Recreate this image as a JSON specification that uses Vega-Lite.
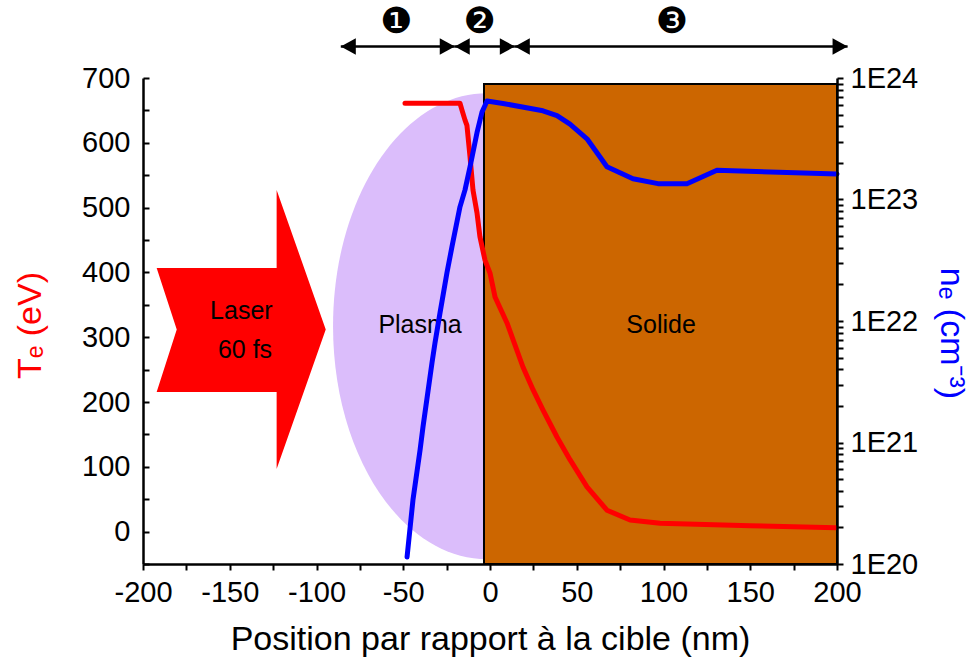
{
  "$schema": "https://vega.github.io/schema/vega-lite/v6.json",
  "width": 694,
  "height": 486,
  "autosize": {"type": "none"},
  "padding": {"left": 143, "top": 78, "right": 140, "bottom": 94},
  "background": "white",
  "config": {"view": {"stroke": null}, "font": "Liberation Sans"},
  "datasets": {
    "te": [
      {"position": -49.0, "Te": 661}, {"position": -17.3, "Te": 661}, {"position": -16.1, "Te": 650},
      {"position": -14.4, "Te": 635}, {"position": -13.3, "Te": 627}, {"position": -11.5, "Te": 578},
      {"position": -9.8, "Te": 527}, {"position": -7.5, "Te": 492}, {"position": -5.8, "Te": 455},
      {"position": -2.9, "Te": 419}, {"position": 0, "Te": 399}, {"position": 2.9, "Te": 362},
      {"position": 9.8, "Te": 322}, {"position": 19.0, "Te": 254}, {"position": 24.8, "Te": 219},
      {"position": 30.5, "Te": 188}, {"position": 38.6, "Te": 146}, {"position": 46.1, "Te": 111},
      {"position": 55.9, "Te": 69}, {"position": 67.4, "Te": 33}, {"position": 80.7, "Te": 18},
      {"position": 98.0, "Te": 13}, {"position": 149.9, "Te": 9}, {"position": 199.4, "Te": 6}
    ],
    "ne": [
      {"position": -47.8, "ne": 1.14e20}, {"position": -44.4, "ne": 3.37e20}, {"position": -40.3, "ne": 8.7e20},
      {"position": -38.6, "ne": 1.35e21}, {"position": -33.4, "ne": 4.57e21}, {"position": -31.7, "ne": 6.6e21},
      {"position": -28.8, "ne": 1.17e22}, {"position": -24.8, "ne": 2.5e22}, {"position": -21.9, "ne": 4.1e22},
      {"position": -17.3, "ne": 8.7e22}, {"position": -14.4, "ne": 1.2e23}, {"position": -11.5, "ne": 1.86e23},
      {"position": -7.5, "ne": 3.55e23}, {"position": -4.6, "ne": 5.25e23}, {"position": -1.7, "ne": 6.46e23},
      {"position": 7.5, "ne": 6.17e23}, {"position": 30.5, "ne": 5.37e23}, {"position": 38.6, "ne": 4.9e23},
      {"position": 46.1, "ne": 4.17e23}, {"position": 55.9, "ne": 3.16e23}, {"position": 67.4, "ne": 1.86e23},
      {"position": 82.4, "ne": 1.48e23}, {"position": 96.8, "ne": 1.35e23}, {"position": 113.5, "ne": 1.35e23},
      {"position": 130.8, "ne": 1.74e23}, {"position": 200, "ne": 1.62e23}
    ],
    "plasma": [{"position": -1.7, "Te": 317}],
    "laser": [{"position": -143.4, "Te": 312}],
    "solid": [{"position": -3.46, "position_end": 200, "Te": -50, "Te_end": 690.7}],
    "labels": [
      {"position": -40.3, "Te": 306.5, "text": "Plasma"},
      {"position": 98.6, "Te": 306.5, "text": "Solide"},
      {"position": -143.3, "Te": 328, "text": "Laser"},
      {"position": -141.2, "Te": 267.6, "text": "60 fs"}
    ],
    "arrows": [
      {"position": -86.0, "position_end": -20.3, "Te": 748.6},
      {"position": -20.3, "position_end": 14.3, "Te": 748.6},
      {"position": 14.3, "position_end": 206.1, "Te": 748.6}
    ],
    "heads": [
      {"position": -86.0, "Te": 748.6, "pointing": "left"},
      {"position": -20.3, "Te": 748.6, "pointing": "right"},
      {"position": -20.3, "Te": 748.6, "pointing": "left"},
      {"position": 14.3, "Te": 748.6, "pointing": "right"},
      {"position": 14.3, "Te": 748.6, "pointing": "left"},
      {"position": 206.1, "Te": 748.6, "pointing": "right"}
    ],
    "regions": [
      {"position": -54.1, "Te": 786, "text": "❶"},
      {"position": -5.9, "Te": 786, "text": "❷"},
      {"position": 104.8, "Te": 786, "text": "❸"}
    ]
  },
  "layer": [
    {
      "encoding": {
        "x": {
          "field": "position",
          "type": "quantitative",
          "scale": {"domain": [-200, 200], "nice": false, "zero": false},
          "title": "Position par rapport à la cible (nm)",
          "axis": {
            "values": [-200, -175, -150, -125, -100, -75, -50, -25, 0, 25, 50, 75, 100, 125, 150, 175, 200],
            "labelExpr": "datum.value % 50 == 0 ? '' + datum.value : ''",
            "grid": false, "domain": false,
            "tickSize": 6, "tickColor": "black", "tickWidth": 2,
            "labelFontSize": 29, "labelColor": "black", "labelPadding": 8,
            "labelFlush": false, "labelOverlap": false,
            "titleFontSize": 34, "titleFontWeight": "normal", "titleColor": "black",
            "titleY": 85, "titleBaseline": "alphabetic"
          }
        },
        "y": {
          "field": "Te",
          "type": "quantitative",
          "scale": {"domain": [-50, 700], "nice": false, "zero": false},
          "title": "Tₑ (eV)",
          "axis": {
            "orient": "left",
            "values": [-50, 0, 50, 100, 150, 200, 250, 300, 350, 400, 450, 500, 550, 600, 650, 700],
            "labelExpr": "datum.value % 100 == 0 ? '' + datum.value : ''",
            "grid": false, "offset": -6, "domain": false,
            "tickSize": 6, "tickColor": "black", "tickWidth": 2,
            "labelFontSize": 29, "labelColor": "black", "labelPadding": 13,
            "labelFlush": false, "labelOverlap": false,
            "titleFontSize": 34, "titleFontWeight": "normal", "titleColor": "#FF0000",
            "titleX": -109, "titleY": 247, "titleAngle": 270, "titleBaseline": "alphabetic", "titleAlign": "center"
          }
        }
      },
      "layer": [
        {
          "data": {"name": "plasma"},
          "mark": {
            "type": "point", "filled": true, "opacity": 1, "strokeWidth": 0, "color": "#DBBDFB",
            "size": 217156,
            "shape": "M 0.661 0 C 0.661 0.5523 0.365 1 0 1 C -0.365 1 -0.661 0.5523 -0.661 0 C -0.661 -0.5523 -0.365 -1 0 -1 C 0.365 -1 0.661 -0.5523 0.661 0 Z"
          }
        },
        {
          "data": {"name": "solid"},
          "mark": {"type": "rect", "fill": "#CC6600", "stroke": "black", "strokeWidth": 2},
          "encoding": {"x2": {"field": "position_end"}, "y2": {"field": "Te_end"}}
        },
        {
          "data": {"name": "laser"},
          "mark": {
            "type": "point", "filled": true, "opacity": 1, "strokeWidth": 0, "color": "#FF0000",
            "size": 77841,
            "shape": "M -0.606 -0.441 L 0.254 -0.441 L 0.254 -1 L 0.606 0 L 0.254 1 L 0.254 0.448 L -0.606 0.448 L -0.462 0 Z"
          }
        },
        {
          "data": {"name": "labels"},
          "mark": {"type": "text", "fontSize": 25, "color": "black", "align": "center", "baseline": "alphabetic"},
          "encoding": {"text": {"field": "text"}}
        },
        {
          "data": {"name": "heads"},
          "mark": {"type": "point", "filled": true, "opacity": 1, "strokeWidth": 0, "color": "black", "size": 900},
          "encoding": {
            "shape": {
              "field": "pointing", "type": "nominal", "legend": null,
              "scale": {"domain": ["left", "right"], "range": ["M 0 0 L 1 -0.55 L 1 0.55 Z", "M 0 0 L -1 -0.55 L -1 0.55 Z"]}
            }
          }
        },
        {
          "data": {"name": "te"},
          "mark": {"type": "line", "color": "#FF0000", "strokeWidth": 5, "strokeCap": "round", "strokeJoin": "round"}
        }
      ]
    },
    {
      "data": {"name": "ne"},
      "mark": {"type": "line", "color": "#0000FF", "strokeWidth": 5, "strokeCap": "round", "strokeJoin": "round"},
      "encoding": {
        "x": {
          "field": "position", "type": "quantitative",
          "scale": {"domain": [-200, 200], "nice": false, "zero": false},
          "axis": {"orient": "bottom", "domain": true, "domainColor": "black", "domainWidth": 2.5, "ticks": false, "labels": false, "grid": false, "title": null, "zindex": 1}
        },
        "y": {
          "field": "ne",
          "type": "quantitative",
          "scale": {"type": "log", "domain": [1e20, 1e24], "nice": false},
          "title": "nₑ (cm⁻³)",
          "axis": {
            "orient": "right",
            "values": [1e20, 2e20, 3e20, 4e20, 5e20, 6e20, 7e20, 8e20, 9e20, 1e21, 2e21, 3e21, 4e21, 5e21, 6e21, 7e21, 8e21, 9e21, 1e22, 2e22, 3e22, 4e22, 5e22, 6e22, 7e22, 8e22, 9e22, 1e23, 2e23, 3e23, 4e23, 5e23, 6e23, 7e23, 8e23, 9e23, 1e24],
            "labelExpr": "abs(log(datum.value)/LN10 - round(log(datum.value)/LN10)) < 0.001 ? '1E' + round(log(datum.value)/LN10) : ''",
            "grid": false, "domain": false,
            "tickSize": 6, "tickColor": "black", "tickWidth": 2,
            "labelFontSize": 29, "labelColor": "black", "labelPadding": 7,
            "labelFlush": false, "labelOverlap": false,
            "titleFontSize": 34, "titleFontWeight": "normal", "titleColor": "#0000FF",
            "titleX": 103, "titleY": 255, "titleAngle": 90, "titleBaseline": "alphabetic", "titleAlign": "center"
          }
        }
      }
    },
    {
      "data": {"name": "regions"},
      "mark": {"type": "text", "font": "DejaVu Sans", "fontSize": 36, "color": "black", "align": "center", "baseline": "middle"},
      "encoding": {
        "x": {"field": "position", "type": "quantitative", "scale": {"domain": [-200, 200], "nice": false, "zero": false}, "axis": null},
        "y": {
          "field": "Te", "type": "quantitative",
          "scale": {"domain": [-50, 700], "nice": false, "zero": false},
          "axis": {"orient": "left", "domain": true, "domainColor": "black", "domainWidth": 2.5, "ticks": false, "labels": false, "grid": false, "title": null, "zindex": 1}
        },
        "text": {"field": "text"}
      }
    },
    {
      "data": {"name": "arrows"},
      "mark": {"type": "rule", "color": "black", "strokeWidth": 2.5},
      "encoding": {
        "x": {"field": "position", "type": "quantitative", "scale": {"domain": [-200, 200], "nice": false, "zero": false}, "axis": null},
        "x2": {"field": "position_end"},
        "y": {
          "field": "Te", "type": "quantitative",
          "scale": {"domain": [-50, 700], "nice": false, "zero": false},
          "axis": {"orient": "right", "domain": true, "domainColor": "black", "domainWidth": 2.5, "ticks": false, "labels": false, "grid": false, "title": null, "zindex": 1}
        }
      }
    }
  ],
  "resolve": {"scale": {"x": "independent", "y": "independent"}}
}
